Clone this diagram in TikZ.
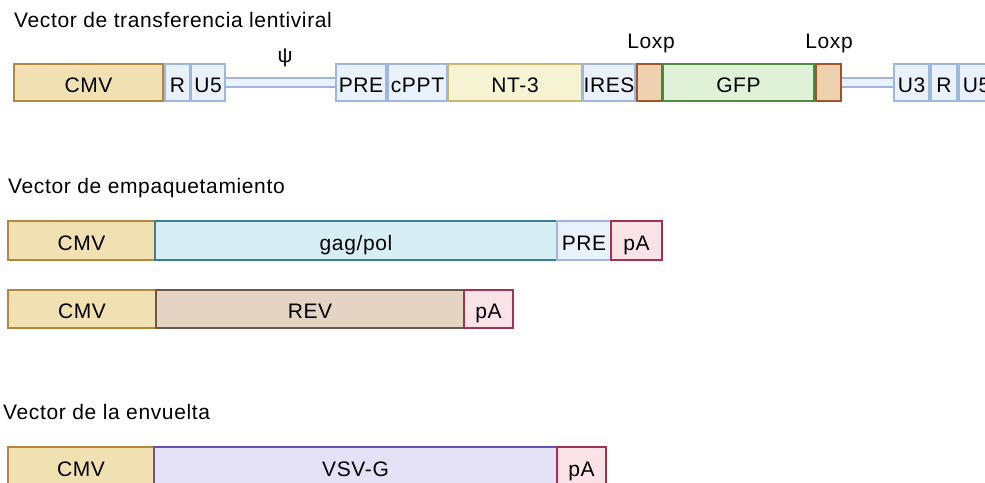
\documentclass[tikz,border=0pt]{standalone}
\usepackage{fontspec}
\setmainfont[LetterSpace=3]{Liberation Sans}

% fills and borders of the construct elements
\definecolor{cmvFill}{HTML}{F1E0B2}
\definecolor{cmvLine}{HTML}{B4873E}
\definecolor{seqFill}{HTML}{E9F1FB}
\definecolor{seqLine}{HTML}{9FB6DF}
\definecolor{ntFill}{HTML}{F6F3D3}
\definecolor{ntLine}{HTML}{C9B872}
\definecolor{loxFill}{HTML}{EED2AF}
\definecolor{loxLine}{HTML}{A0542C}
\definecolor{gfpFill}{HTML}{DFF2D8}
\definecolor{gfpLine}{HTML}{4E8B3E}
\definecolor{gagFill}{HTML}{D7EEF4}
\definecolor{gagLine}{HTML}{3D7F8E}
\definecolor{paFill}{HTML}{FAE3E8}
\definecolor{paLine}{HTML}{A2324F}
\definecolor{revFill}{HTML}{E4D4C4}
\definecolor{revLine}{HTML}{6F5649}
\definecolor{vsvFill}{HTML}{E5E1F6}
\definecolor{vsvLine}{HTML}{6B4CB0}

% \segbox{name}{style}{x left}{x right}{y top}{y bottom}{label}
\newcommand\segbox[7]{%
  \node[blk,#2,minimum width={(#4-#3)*1pt},minimum height={(#6-#5)*1pt}]
    (#1) at ({(#3+#4)/2},{(#5+#6)/2}) {#7};}

\begin{document}
\begin{tikzpicture}[x=1pt,y=-1pt,
  every node/.style={font=\fontsize{21}{24}\selectfont, text=black},
  blk/.style={draw, line width=2pt, inner sep=0pt, text height=19.5pt, text depth=0pt},
  cmv/.style={fill=cmvFill, draw=cmvLine},
  seq/.style={fill=seqFill, draw=seqLine},
  nt/.style={fill=ntFill, draw=ntLine},
  lox/.style={fill=loxFill, draw=loxLine},
  gfp/.style={fill=gfpFill, draw=gfpLine},
  gag/.style={fill=gagFill, draw=gagLine},
  pa/.style={fill=paFill, draw=paLine},
  rev/.style={fill=revFill, draw=revLine},
  vsv/.style={fill=vsvFill, draw=vsvLine},
  linker/.style={draw=seqLine, line width=1.6pt, double=seqFill, double distance=7pt},
  title/.style={anchor=base west, inner sep=0pt},
  tag/.style={anchor=base, inner sep=0pt}]

\clip (0,0) rectangle (985,482);
\fill[white] (0,0) rectangle (985,482);

% transfer vector
\node[title] (t1) at (14,27) {Vector de transferencia lentiviral};
\segbox{cmvA}{cmv}{14}{163}{64}{101}{CMV}
\segbox{rA}{seq}{165}{190}{64}{101}{R}
\segbox{u5A}{seq}{191}{225}{64}{101}{U5}
\segbox{preA}{seq}{336}{386}{64}{101}{PRE}
\segbox{cpptA}{seq}{388}{447}{64}{101}{cPPT}
\segbox{ntA}{nt}{448}{582}{64}{101}{NT-3}
\segbox{iresA}{seq}{583}{635}{64}{101}{IRES}
\segbox{loxA}{lox}{637}{662}{64}{101}{}
\segbox{gfpA}{gfp}{663}{814}{64}{101}{GFP}
\segbox{loxB}{lox}{816}{841}{64}{101}{}
\segbox{u3A}{seq}{894}{929}{64}{101}{U3}
\segbox{rB}{seq}{931}{957}{64}{101}{R}
\segbox{u5B}{seq}{959}{994}{64}{101}{U5}
\draw[linker] (u5A.east) -- (preA.west);
\draw[linker] (loxB.east) -- (u3A.west);
\node[tag] (psi) at (285,62) {ψ};
\node[tag] (loxpA) at (651,48) {Loxp};
\node[tag] (loxpB) at (829,48) {Loxp};

% packaging vectors
\node[title] (t2) at (8,193) {Vector de empaquetamiento};
\segbox{cmvB}{cmv}{8}{155}{221}{260}{CMV}
\segbox{gagB}{gag}{155}{557}{221}{260}{gag/pol}
\segbox{preB}{seq}{557}{611}{221}{260}{PRE}
\segbox{paB}{pa}{611}{662}{221}{260}{pA}

\segbox{cmvC}{cmv}{8}{156}{290}{328}{CMV}
\segbox{revC}{rev}{156}{464}{290}{328}{REV}
\segbox{paC}{pa}{464}{513}{290}{328}{pA}

% envelope vector
\node[title] (t3) at (3,419) {Vector de la envuelta};
\segbox{cmvD}{cmv}{8}{154}{447}{486}{CMV}
\segbox{vsvD}{vsv}{154}{557}{447}{486}{VSV-G}
\segbox{paD}{pa}{557}{606}{447}{486}{pA}
\end{tikzpicture}
\end{document}
